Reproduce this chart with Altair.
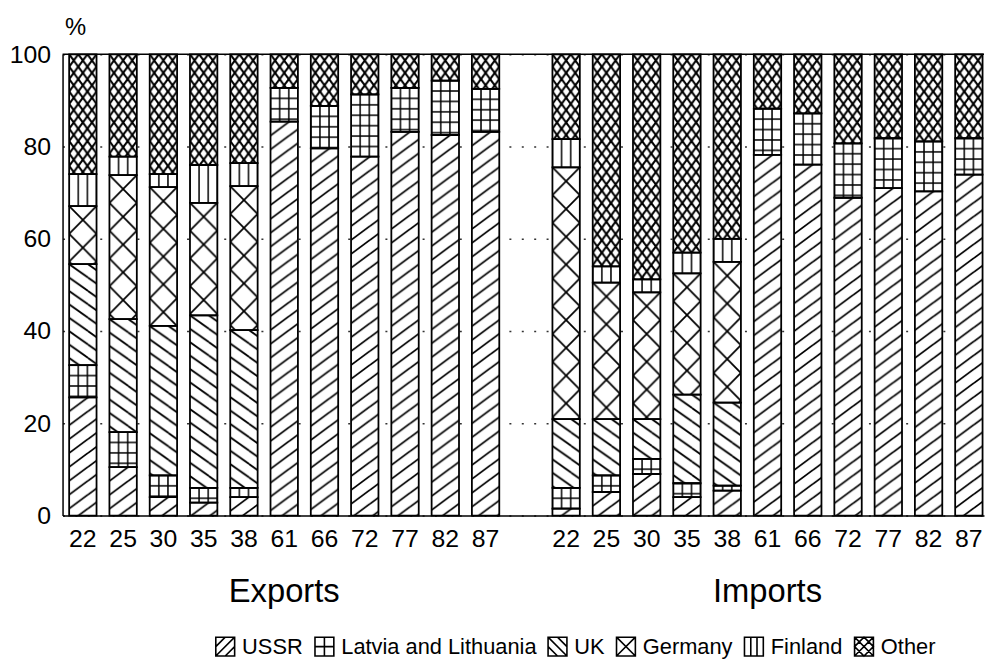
import base64
import altair as alt
import pandas as pd

years = ["22", "25", "30", "35", "38", "61", "66", "72", "77", "82", "87"]
categories = ["USSR", "Latvia and Lithuania", "UK", "Germany", "Finland", "Other"]

# Exports, share of each partner (%)
exp_ussr = [25.6, 10.5, 4.0, 2.8, 4.0, 85.4, 79.6, 77.8, 83.2, 82.5, 83.2]
exp_latvia = [7.0, 7.6, 4.7, 3.2, 2.0, 7.3, 9.2, 13.5, 9.5, 11.8, 9.3]
exp_uk = [21.9, 24.5, 32.4, 37.4, 34.2, 0, 0, 0, 0, 0, 0]
exp_germany = [12.6, 31.2, 30.1, 24.4, 31.2, 0, 0, 0, 0, 0, 0]
exp_finland = [6.9, 4.0, 2.8, 8.2, 5.0, 0, 0, 0, 0, 0, 0]
exp_other = [26.0, 22.2, 26.0, 24.0, 23.6, 7.3, 11.2, 8.7, 7.3, 5.7, 7.5]

# Imports, share of each partner (%)
imp_ussr = [1.5, 5.1, 9.0, 4.0, 5.4, 78.2, 76.1, 68.9, 71.0, 70.3, 73.9]
imp_latvia = [4.5, 3.6, 3.3, 3.0, 1.1, 10.0, 11.1, 11.8, 10.8, 10.8, 7.9]
imp_uk = [14.9, 12.2, 8.6, 19.2, 18.0, 0, 0, 0, 0, 0, 0]
imp_germany = [54.6, 29.6, 27.5, 26.3, 30.5, 0, 0, 0, 0, 0, 0]
imp_finland = [6.1, 3.5, 2.8, 4.5, 5.0, 0, 0, 0, 0, 0, 0]
imp_other = [18.4, 46.0, 48.8, 43.0, 40.0, 11.8, 12.8, 19.3, 18.2, 18.9, 18.2]

exports = [exp_ussr, exp_latvia, exp_uk, exp_germany, exp_finland, exp_other]
imports = [imp_ussr, imp_latvia, imp_uk, imp_germany, imp_finland, imp_other]

rows = []
for prefix, table in (("E", exports), ("I", imports)):
    for ci, (cat, vals) in enumerate(zip(categories, table)):
        for yr, v in zip(years, vals):
            rows.append({"key": prefix + yr, "category": cat, "value": v, "order": ci})
df = pd.DataFrame(rows)

domain = ["E" + y for y in years] + ["gap"] + ["I" + y for y in years]

FONT = "Liberation Sans"
BW = 27.6  # band width in px, used for pattern tiles


def pattern_url(w, h, segments, sw):
    parts = []
    for (x1, y1, x2, y2) in segments:
        for dx in (-w, 0, w):
            for dy in (-h, 0, h):
                parts.append(
                    f'<line x1="{x1 + dx:.2f}" y1="{y1 + dy:.2f}" '
                    f'x2="{x2 + dx:.2f}" y2="{y2 + dy:.2f}"/>'
                )
    svg = (
        '<svg xmlns="http://www.w3.org/2000/svg">'
        f'<defs><pattern id="p" patternUnits="userSpaceOnUse" width="{w}" height="{h}">'
        f'<g stroke="black" stroke-width="{sw}" fill="none">' + "".join(parts) + "</g>"
        "</pattern></defs>"
        '<rect width="100%" height="100%" fill="white"/>'
        '<rect width="100%" height="100%" fill="url(#p)"/></svg>'
    )
    return "data:image/svg+xml;base64," + base64.b64encode(svg.encode()).decode()


t3 = BW / 3
patterns = [
    pattern_url(19, 14, [(0, 14, 19, 0)], 1.8),                      # USSR  /
    pattern_url(t3, 10.5, [(0, 0, 0, 10.5), (0, 0, t3, 0)], 1.5),    # Latvia grid
    pattern_url(19, 13.5, [(0, 0, 19, 13.5)], 1.8),                  # UK  \
    pattern_url(BW, 28, [(0, 0, BW, 28), (0, 28, BW, 0)], 1.8),      # Germany X
    pattern_url(t3, 10, [(0, 0, 0, 10)], 1.5),                       # Finland |||
    pattern_url(9.2, 12.5, [(0, 0, 9.2, 12.5), (0, 12.5, 9.2, 0)], 2.1),  # Other
]
pattern_df = pd.DataFrame({"category": categories, "pattern": patterns})

box = "M-1,-1L1,-1L1,1L-1,1Z"
legend_paths = [
    box + "M-1,1L1,-1M-1,0L0,-1M0,1L1,0",
    box + "M0,-1L0,1M-1,0L1,0",
    box + "M-1,-1L1,1M0,-1L1,0M-1,0L0,1",
    box + "M-1,-1L1,1M-1,1L1,-1",
    box + "M-0.33,-1L-0.33,1M0.33,-1L0.33,1",
    box + "M-1,-1L1,1M-1,1L1,-1M0,-1L1,0L0,1L-1,0Z",
]

xscale = alt.Scale(domain=domain, paddingInner=0.32, paddingOuter=0.1, align=0.82)
x_enc = alt.X(
    "key:N",
    scale=xscale,
    axis=alt.Axis(
        title=None,
        labelExpr="datum.value == 'gap' ? '' : substring(datum.value, 1)",
        labelAngle=0,
        labelFontSize=25,
        labelPadding=11,
        labelFont=FONT,
        labelColor="black",
        ticks=False,
        tickSize=0,
        domainColor="black",
        domainWidth=1.5,
        grid=False,
        labelOverlap=False,
    ),
)
y_enc = alt.Y(
    "y1:Q",
    scale=alt.Scale(domain=[0, 100], nice=False),
    axis=alt.Axis(
        values=[0, 20, 40, 60, 80, 100],
        title="%",
        titleAngle=0,
        titleAlign="left",
        titleBaseline="alphabetic",
        titleX=2,
        titleY=-20,
        titleFontSize=24,
        titleFontWeight="normal",
        titleFont=FONT,
        titleColor="black",
        labelFontSize=25,
        labelFont=FONT,
        labelColor="black",
        labelPadding=12,
        ticks=False,
        tickSize=0,
        domainColor="black",
        domainWidth=1.5,
        grid=True,
        gridDash=[2, 10.5],
        gridColor="#333333",
        gridWidth=1.5,
    ),
)

base = (
    alt.Chart(df)
    .transform_stack(
        stack="value", groupby=["key"], sort=[alt.SortField("order")], as_=["y0", "y1"]
    )
    .transform_filter("datum.value > 0")
)

hatch = (
    base.transform_lookup(
        lookup="category", from_=alt.LookupData(pattern_df, "category", ["pattern"])
    )
    .mark_image(aspect=False)
    .encode(x=x_enc, y=y_enc, y2="y0:Q", url="pattern:N")
)

outline = base.mark_rect(fill="transparent", stroke="black", strokeWidth=1.8).encode(
    x=x_enc, y=y_enc, y2="y0:Q"
)

legend_pts = base.mark_point(opacity=0, filled=False, color="black").encode(
    x=x_enc,
    y=y_enc,
    shape=alt.Shape(
        "category:N",
        scale=alt.Scale(domain=categories, range=legend_paths),
        legend=alt.Legend(
            title=None,
            orient="none",
            legendX=153,
            legendY=586,
            direction="horizontal",
            columns=6,
            symbolSize=361,
            symbolStrokeWidth=1.6,
            symbolStrokeColor="black",
            symbolFillColor="white",
            symbolOpacity=1,
            labelFontSize=22,
            labelFont=FONT,
            labelColor="black",
            labelLimit=0,
            labelOffset=6,
            columnPadding=8,
            padding=0,
        ),
    ),
)

top_df = pd.DataFrame({"top": [100]})
top_line = alt.Chart(top_df).mark_rule(color="black", strokeWidth=1.5).encode(y="top:Q")

group_df = pd.DataFrame({"group": ["Exports", "Imports"], "key": ["E61", "I61"]})
group_text = (
    alt.Chart(group_df)
    .mark_text(fontSize=33, font=FONT, color="black", baseline="middle")
    .encode(x=alt.X("key:N", scale=xscale), y=alt.value(542), text="group:N")
)

chart = (
    alt.layer(hatch, outline, top_line, group_text, legend_pts)
    .properties(
        width=929,
        height=465,
        autosize=alt.AutoSizeParams(type="none"),
        padding={"left": 55, "top": 44, "right": 1, "bottom": 146},
    )
    .configure_view(stroke=None)
)

chart.save("out.html", embed_options={"renderer": "svg", "actions": False})
